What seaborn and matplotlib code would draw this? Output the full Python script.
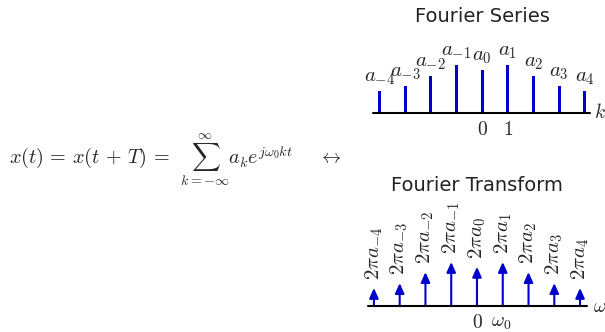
import numpy as np
import matplotlib
matplotlib.use("Agg")
from matplotlib import pyplot as plt
import seaborn as sns

# Fourier series coefficients (relative heights)
k_vals = [-4, -3, -2, -1, 0, 1, 2, 3, 4]
fs_heights = [0.46, 0.56, 0.77, 1.0, 0.9, 1.0, 0.77, 0.56, 0.46]
fs_labels = [r"$a_{-4}$", r"$a_{-3}$", r"$a_{-2}$", r"$a_{-1}$", r"$a_0$",
             r"$a_1$", r"$a_2$", r"$a_3$", r"$a_4$"]
fs_ticks = [0, 1]
fs_ticklabels = [r"$0$", r"$1$"]

# Fourier transform impulses
ft_heights = [0.41, 0.52, 0.77, 1.0, 0.89, 1.0, 0.77, 0.52, 0.41]
ft_labels = [r"$2\pi a_{-4}$", r"$2\pi a_{-3}$", r"$2\pi a_{-2}$", r"$2\pi a_{-1}$",
             r"$2\pi a_0$", r"$2\pi a_1$", r"$2\pi a_2$", r"$2\pi a_3$", r"$2\pi a_4$"]
ft_ticks = [0, 0.92]
ft_ticklabels = [r"$0$", r"$\omega_0$"]

BLUE = "#0000cc"
W, H = 605, 332

sns.set_theme(style="white")
plt.rcParams["font.family"] = ["DejaVu Sans"]
plt.rcParams["mathtext.fontset"] = "cm"

fig = plt.figure(figsize=(W / 100, H / 100), dpi=100)

def px_axes(left, right, base, top):
    return fig.add_axes([left / W, (H - base) / H, (right - left) / W, (base - top) / H])

# formula on the left
fig.text(9 / W, 1 - 160 / H,
         r"$x(t)\,=\,x(t\,+\,T)\,=\;\,\sum_{k=-\infty}^{\infty} a_k e^{j\omega_0 k t}$",
         fontsize=14.5, ha="left", va="center")
fig.text(330 / W, 1 - 158 / H, r"$\leftrightarrow$", fontsize=14, ha="center", va="center")

# --- Fourier series
ax1 = px_axes(373, 590, 113, 65)
df = {"k": k_vals, "a": fs_heights}
sns.barplot(x=df["k"], y=df["a"], native_scale=True, width=0.12, color=BLUE,
            saturation=1, errorbar=None, linewidth=0, ax=ax1)
ax1.set_xlim(-4.25, 4.2)
ax1.set_ylim(0, 1)
ax1.axhline(0, color="black", lw=1.5, clip_on=False, zorder=5)
for k, h, lab in zip(k_vals, fs_heights, fs_labels):
    ax1.annotate(lab, (k, h), xytext=(0, 3), textcoords="offset points",
                 ha="center", va="bottom", fontsize=15, annotation_clip=False)
for t, lab in zip(fs_ticks, fs_ticklabels):
    ax1.annotate(lab, (t, 0), xytext=(0, -5), textcoords="offset points",
                 ha="center", va="top", fontsize=14, annotation_clip=False)
ax1.annotate(r"$k$", (1, 0), xycoords=("axes fraction", "data"), xytext=(3, 0),
             textcoords="offset points", ha="left", va="center", fontsize=14,
             annotation_clip=False)
ax1.set_axis_off()
fig.text(482 / W, 1 - 17 / H, "Fourier Series", fontsize=14, color="#222222",
         ha="center", va="center")

# --- Fourier transform
ax2 = px_axes(368, 587, 306, 262)
ax2.set_xlim(-4.23, 4.27)
ax2.set_ylim(0, 1)
for k, h, lab in zip(k_vals, ft_heights, ft_labels):
    ax2.annotate("", xy=(k, h), xytext=(k, 0),
                 arrowprops=dict(arrowstyle="-|>,head_length=0.6,head_width=0.27",
                                 color=BLUE, lw=1.5, shrinkA=0, shrinkB=0,
                                 mutation_scale=10),
                 annotation_clip=False)
    ax2.annotate(lab, (k, h), xytext=(0, 6), textcoords="offset points",
                 ha="center", va="bottom", rotation=90, fontsize=15,
                 annotation_clip=False)
ax2.axhline(0, color="black", lw=1.5, clip_on=False, zorder=5)
for t, lab in zip(ft_ticks, ft_ticklabels):
    ax2.annotate(lab, (t, 0), xytext=(0, -5), textcoords="offset points",
                 ha="center", va="top", fontsize=14, annotation_clip=False)
ax2.annotate(r"$\omega$", (1, 0), xycoords=("axes fraction", "data"), xytext=(4, 0),
             textcoords="offset points", ha="left", va="center", fontsize=14,
             annotation_clip=False)
ax2.set_axis_off()
fig.text(477 / W, 1 - 185 / H, "Fourier Transform", fontsize=14, color="#222222",
         ha="center", va="center")

fig.savefig("out.png", dpi=100)
